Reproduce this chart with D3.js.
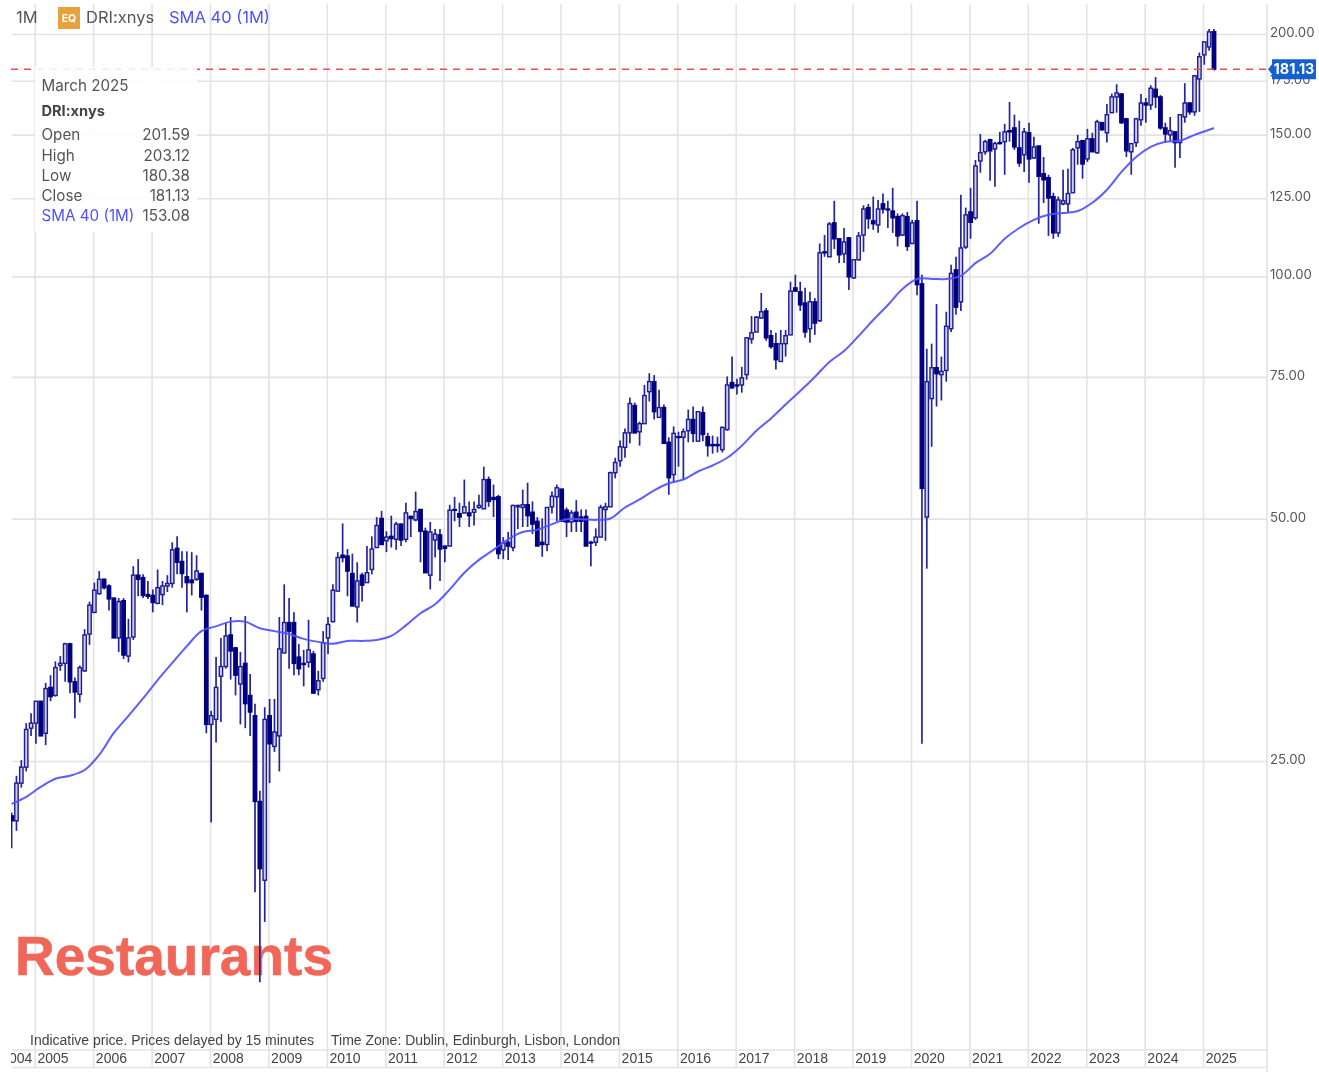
<!DOCTYPE html>
<html><head><meta charset="utf-8">
<script src="https://cdnjs.cloudflare.com/ajax/libs/d3/7.8.5/d3.min.js"></script>
<style>html,body{margin:0;padding:0;background:#fff;overflow:hidden}svg{display:block;filter:blur(0.3px)}</style>
</head><body><svg id="c" width="1319" height="1074"></svg>
<script>
const firstMonth = [2004, 7];
const highs = [21.6,24.0,25.1,27.9,28.7,29.7,29.7,31.3,32.0,33.3,
33.8,35.1,35.1,31.8,32.9,36.5,39.5,41.7,43.1,42.2,
41.5,39.9,39.9,39.9,37.6,43.7,44.6,42.7,41.9,40.9,
43.3,41.9,42.6,46.8,47.6,45.6,45.6,45.5,45.1,42.9,
40.3,28.9,33.7,35.6,37.2,37.8,34.7,34.2,37.9,32.1,
29.5,23.0,29.2,29.9,29.9,37.8,41.5,39.9,38.3,35.0,
34.4,37.5,34.3,32.4,36.3,37.8,41.5,45.5,49.4,45.9,
45.3,44.2,42.9,46.3,47.6,50.3,51.2,48.3,50.5,49.6,
49.4,52.4,50.5,54.1,51.5,48.8,49.6,48.6,48.6,46.3,
52.1,53.3,52.4,56.0,52.6,52.6,53.6,58.1,56.5,55.2,
53.6,47.5,48.2,52.1,52.1,54.4,55.5,52.6,50.3,50.1,
51.7,54.1,55.2,54.5,51.7,51.3,52.8,51.4,51.4,47.0,
48.7,52.1,52.4,57.3,59.6,62.6,64.8,70.8,69.8,66.1,
73.4,75.9,75.5,72.4,69.4,63.2,65.2,64.2,64.8,68.4,
69.0,68.0,69.0,64.0,63.5,63.3,65.2,75.2,79.6,74.7,
77.3,84.0,89.4,89.4,95.5,91.5,85.9,85.2,85.9,85.9,
98.6,100.6,98.6,96.9,95.8,94.1,110.0,112.7,117.0,124.3,
111.5,115.0,112.1,105.0,113.7,122.7,123.2,125.8,124.6,126.9,
124.3,129.0,119.9,119.9,120.4,117.7,124.3,100.6,81.4,82.6,
92.5,79.6,90.5,103.5,105.9,126.5,121.9,129.0,139.7,150.5,
148.0,148.4,147.2,151.4,154.9,164.9,159.0,156.3,153.1,155.4,
149.3,145.4,140.9,133.9,127.2,125.8,135.8,136.2,144.6,150.1,
148.0,152.7,151.0,156.7,155.8,164.0,168.9,173.5,169.2,157.6,
146.4,157.6,168.7,166.8,173.0,177.1,168.2,155.4,158.0,151.4,
159.0,174.0,164.9,178.2,189.9,196.0,203.2,203.12];
const lows = [19.5,20.5,23.2,24.3,26.9,26.3,26.9,26.2,29.7,30.1,
32.4,31.4,30.4,28.3,29.6,32.3,34.9,38.2,40.3,40.9,
38.5,35.6,34.2,33.5,33.2,35.4,40.1,39.9,39.8,38.3,
39.2,39.1,40.6,41.1,42.7,41.1,38.3,40.2,41.9,38.5,
27.1,21.0,26.4,28.0,32.6,31.6,30.2,27.8,27.5,26.9,
17.2,13.3,15.8,23.5,25.7,24.3,34.1,32.6,32.0,32.0,
31.0,32.7,30.4,30.2,31.4,34.0,37.2,40.7,44.2,40.1,
39.0,37.2,39.5,41.7,42.7,46.1,46.5,45.5,46.1,45.8,
46.3,46.8,47.5,49.7,44.2,42.9,40.9,44.8,41.9,44.2,
46.3,49.7,48.9,50.8,48.9,49.1,51.5,51.5,51.8,50.3,
44.6,44.6,44.5,45.6,48.6,48.9,48.9,47.9,46.3,44.9,
45.6,50.8,49.7,49.7,47.5,48.2,48.2,48.2,46.3,43.7,
46.3,47.5,47.0,51.8,56.2,58.1,59.6,62.1,63.9,61.7,
65.7,70.0,66.5,66.9,62.1,53.6,55.5,58.1,56.0,62.3,
62.3,62.5,62.5,59.8,60.3,60.5,60.5,64.4,72.6,71.4,
71.8,74.5,82.6,85.4,88.7,83.3,81.4,76.7,78.5,79.6,
84.7,95.8,90.7,84.0,82.8,84.7,87.9,105.9,105.9,108.3,
104.0,104.0,96.3,99.4,104.7,107.4,114.7,114.4,113.4,119.9,
115.0,113.4,109.1,112.4,107.7,109.8,94.9,26.3,43.4,61.5,
69.0,70.2,74.1,85.4,89.7,90.7,108.3,111.5,117.7,134.7,
141.8,131.6,129.4,146.0,133.9,147.2,143.8,137.0,135.0,130.9,
140.1,116.4,123.5,112.4,111.5,112.1,122.7,120.4,127.2,137.8,
132.4,138.9,143.0,142.2,151.9,146.8,159.9,159.9,154.9,140.9,
133.9,145.0,154.1,155.4,161.2,162.1,152.3,146.8,147.2,136.6,
140.5,155.4,159.0,158.5,160.3,183.4,190.9,180.38];
const opens = [21.4,21.1,23.5,24.6,27.5,27.9,29.7,27.1,30.9,30.2,
32.9,33.1,35.0,31.4,30.3,32.4,36.0,38.3,40.4,42.1,
41.3,39.9,35.6,39.6,33.8,35.7,42.6,42.3,40.3,40.2,
39.3,40.3,41.3,41.6,46.0,44.3,42.4,42.0,42.1,42.8,
40.2,27.8,28.2,31.9,32.8,35.9,34.6,31.2,33.1,30.2,
28.5,22.3,17.8,28.5,26.1,26.9,34.1,37.2,37.2,33.7,
33.1,33.2,34.0,30.7,31.7,35.6,37.3,40.7,45.1,45.0,
42.8,38.9,42.6,41.7,43.3,46.1,50.1,47.0,47.6,47.2,
49.3,47.2,50.4,49.9,51.4,48.3,42.6,47.1,47.8,46.3,
46.3,51.4,50.8,50.9,50.9,51.0,51.7,51.5,56.0,53.2,
53.3,45.8,46.8,46.1,51.8,51.7,52.1,51.0,49.7,46.8,
46.5,51.8,53.3,54.5,51.3,49.6,51.0,50.3,50.4,46.8,
46.8,47.5,51.4,51.8,57.1,59.1,61.4,64.0,69.2,64.2,
65.7,72.0,74.1,66.9,68.8,62.3,56.8,63.3,63.2,64.4,
66.5,62.5,67.8,63.3,61.9,61.9,61.0,64.6,73.9,73.4,
73.4,75.6,83.7,85.4,88.9,90.7,84.5,82.6,78.5,82.6,
84.7,96.9,95.8,92.8,86.2,93.1,88.2,107.4,105.9,116.7,
111.5,106.8,111.8,99.7,105.0,112.7,121.9,117.4,116.0,123.2,
121.4,120.7,118.8,112.7,118.8,110.0,117.4,98.0,50.3,70.6,
77.1,75.6,76.5,86.2,102.0,93.1,108.9,120.4,118.4,139.3,
143.0,148.0,144.2,146.8,147.2,151.9,153.1,144.6,141.8,151.0,
140.5,145.4,134.3,132.8,125.8,113.4,123.2,123.2,127.2,144.6,
147.6,140.1,148.4,142.6,155.4,151.0,159.9,167.3,168.7,157.1,
143.0,146.8,156.7,164.4,163.5,171.0,167.3,153.1,150.1,151.4,
146.8,158.0,164.4,160.3,176.1,188.7,193.0,201.59];
const closes = [21.1,23.5,24.6,27.4,27.9,29.7,26.9,30.8,30.1,32.7,
33.1,35.0,31.4,30.5,32.7,35.9,39.1,40.8,42.1,41.1,
39.8,35.6,39.5,33.9,35.6,42.6,42.1,40.2,40.1,39.4,
41.1,41.3,41.6,45.8,44.2,42.8,41.7,41.7,43.1,40.0,
27.8,28.5,30.9,32.8,35.8,34.3,32.0,32.8,29.5,28.8,
22.3,18.4,28.2,26.3,27.2,34.5,37.2,36.3,33.1,32.6,
33.0,34.4,30.4,31.5,35.1,37.0,40.8,44.8,44.8,43.1,
39.0,41.9,41.4,42.9,45.9,49.1,46.5,47.5,47.3,49.3,
47.1,50.9,50.1,51.1,48.3,42.9,48.2,47.9,45.9,46.0,
51.3,51.3,50.3,51.8,50.5,51.4,52.0,56.0,52.6,52.9,
45.3,46.7,46.3,52.0,52.0,52.1,50.5,49.3,46.3,46.5,
51.7,53.4,54.7,49.7,49.6,50.9,49.7,49.7,46.3,46.7,
47.5,51.7,51.8,57.1,58.8,61.5,64.0,69.6,64.0,65.7,
71.2,74.1,68.0,68.8,62.1,56.3,63.9,63.2,64.2,66.5,
63.9,68.0,63.7,61.7,61.7,61.7,65.0,73.4,72.8,73.2,
74.9,84.0,85.2,89.1,90.5,84.0,81.9,78.9,82.6,84.5,
96.0,96.0,92.3,85.4,93.1,87.6,107.1,107.1,116.3,111.5,
106.5,110.5,100.0,105.0,112.4,121.4,118.1,116.4,121.4,121.4,
121.1,118.4,112.4,119.1,109.1,116.7,97.8,54.6,74.1,77.1,
75.8,76.3,86.8,101.0,91.7,108.6,119.4,116.9,137.3,142.6,
147.2,143.4,146.4,146.4,151.4,151.4,145.0,138.5,151.4,140.1,
145.0,133.3,132.0,125.3,113.4,124.6,124.3,126.9,143.8,147.2,
138.1,148.4,143.0,155.8,152.3,159.0,167.3,169.2,155.4,143.4,
146.4,157.1,164.4,163.5,171.5,167.3,153.1,150.5,151.9,146.8,
159.0,164.4,160.3,177.7,187.7,195.8,201.5,181.13];
// SMA 40 at every third month, plus the last month
const sma40 = [22.15,22.6,23.25,23.8,24.0,24.4,25.47,27.13,28.48,29.94,
31.56,33.14,34.77,36.3,36.8,37.3,37.3,36.6,36.3,36.0,
35.5,35.2,35.0,35.3,35.3,35.4,35.8,36.9,38.2,39.2,
40.9,42.9,44.5,45.8,47.2,48.2,48.5,49.3,50.0,50.0,
49.9,50.1,51.7,52.9,54.3,55.4,56.0,57.3,58.3,59.6,
61.7,64.4,66.7,69.4,72.13,75.1,78.38,80.88,84.44,88.39,
92.26,96.58,99.4,99.4,99.4,100.3,104.0,106.8,111.5,115.0,
117.7,119.4,120.0,120.7,123.6,128.3,135.0,140.9,145.0,147.2,
147.6,150.1,152.3,153.08];
const smaMonths = [...d3.range(0, 247, 3), 247];
const priceTicks = [200,175,150,125,100,75,50,25];
const yearLabels = d3.range(2005, 2026);
const clippedYearLabel = "2004";
const lastPrice = 181.13;
const infoLabels = ["Open","High","Low","Close"];
const infoValues = ["201.59","203.12","180.38","181.13"];

const n = highs.length;
const svg = d3.select("#c");
const x = d3.scaleLinear().domain([0, n-1]).range([11.6, 1214]);
const y = d3.scaleLog().domain([25,200]).range([761.5,34.5]);
const yearIdx = yr => (yr-firstMonth[0])*12 - firstMonth[1];
const gx = yr => x(yearIdx(yr)) - 0.7;
const L = 11, R = 1267, T = 4, B = 1068;
const GRID = "#e3e3e3", SANS = "Inter, 'Noto Sans', sans-serif", ARIAL = "'Liberation Sans', Arial, sans-serif";

svg.append("defs").append("clipPath").attr("id","plot").append("rect").attr("x",L).attr("y",T).attr("width",R-L).attr("height",B-T);
svg.select("defs").append("clipPath").attr("id","xaxis").append("rect").attr("x",L).attr("y",1050).attr("width",R-L).attr("height",20);

// grid
const grid = svg.append("g").attr("stroke",GRID).attr("stroke-width",1.6);
grid.selectAll("line.v").data(yearLabels).join("line").attr("class","v")
  .attr("x1",d=>gx(d)).attr("x2",d=>gx(d)).attr("y1",T).attr("y2",B);
grid.selectAll("line.h").data(priceTicks).join("line").attr("class","h")
  .attr("x1",L+1).attr("x2",R).attr("y1",d=>y(d)).attr("y2",d=>y(d));
grid.append("line").attr("x1",R).attr("x2",R).attr("y1",T).attr("y2",1072);
grid.append("line").attr("x1",L+1).attr("x2",R).attr("y1",1050).attr("y2",1050);
grid.append("line").attr("x1",L+1).attr("x2",R).attr("y1",1067.5).attr("y2",1067.5);

// watermark sits under the candles
svg.append("text").attr("x",15).attr("y",975).attr("font-family",ARIAL).attr("font-weight",700)
  .attr("font-size",55).attr("fill","#f0675a").attr("stroke","#f0675a").attr("stroke-width",0.6)
  .attr("textLength",318).attr("lengthAdjust","spacingAndGlyphs").text("Restaurants");

// candles
const plot = svg.append("g").attr("clip-path","url(#plot)");
const idx = d3.range(n);
plot.append("g").attr("stroke","#24249c").attr("stroke-width",1.7).selectAll("line").data(idx).join("line")
  .attr("x1",i=>x(i)).attr("x2",i=>x(i)).attr("y1",i=>y(highs[i])).attr("y2",i=>y(lows[i]));
plot.append("g").selectAll("rect").data(idx).join("rect")
  .attr("x",i=>x(i)-1.7).attr("width",3.4)
  .attr("y",i=>y(Math.max(opens[i],closes[i])))
  .attr("height",i=>Math.max(0.8,Math.abs(y(opens[i])-y(closes[i]))))
  .attr("fill",i=>closes[i]>=opens[i]?"#cdcde8":"#000080")
  .attr("stroke",i=>closes[i]>=opens[i]?"#1c1c96":"#000080").attr("stroke-width",1.4);

// SMA
plot.append("path").datum(smaMonths).attr("fill","none").attr("stroke","#5050ff").attr("stroke-width",2).attr("stroke-opacity",.92)
  .attr("d",d3.line().x(i=>x(i)).y((i,k)=>y(sma40[k])).curve(d3.curveCatmullRom));

// last price
svg.append("line").attr("x1",L).attr("x2",R).attr("y1",y(lastPrice)).attr("y2",y(lastPrice))
  .attr("stroke","#ee4f4a").attr("stroke-width",1.5).attr("stroke-dasharray","7,6");

// info panel
svg.append("rect").attr("x",35).attr("y",67).attr("width",162).attr("height",165).attr("fill","#fff").attr("fill-opacity",.88);
const tc = "#555";
const t = (s,xx,yy,o={}) => svg.append("text").attr("x",xx).attr("y",yy).attr("font-family",o.f||SANS)
  .attr("font-size",o.s||15.2).attr("fill",o.c||tc).attr("font-weight",o.w||400).attr("text-anchor",o.a||"start").text(s);
t("March 2025",41.5,90.5);
t("DRI:xnys",41.5,116,{w:700,c:"#444",s:14.6});
infoLabels.forEach((l,i)=>{ const yy=[140,160.5,181,200.5][i]; t(l,41.5,yy); t(infoValues[i],190,yy,{a:"end"}); });
t("SMA 40 (1M)",41.5,221,{c:"#5050ff"});
t("153.08",190,221,{a:"end"});

// header
t("1M",16,23,{s:16.5});
svg.append("rect").attr("x",58).attr("y",7).attr("width",22).attr("height",22).attr("fill","#e8a23c");
t("EQ",69,22,{s:10.5,w:700,c:"#fff",a:"middle"});
t("DRI:xnys",86,23,{s:16.5});
t("SMA 40 (1M)",169,23,{s:16.5,c:"#5050ff"});

// right axis
priceTicks.forEach(d=>t(d.toFixed(2),1270,y(d)+2.5,{s:13.2}));
const tagY = y(lastPrice);
svg.append("path").attr("d",d3.line()([[1268,tagY],[1272,tagY-5],[1272,tagY-10],[1316,tagY-10],[1316,tagY+10],[1272,tagY+10],[1272,tagY+5]])+"Z").attr("fill","#1460d0");
t("181.13",1294,tagY+5,{s:14.4,w:700,c:"#fff",a:"middle"});

// footer
t("Indicative price. Prices delayed by 15 minutes",30,1045,{f:ARIAL,s:14,c:"#444"});
t("Time Zone: Dublin, Edinburgh, Lisbon, London",331,1045,{f:ARIAL,s:14,c:"#444"});
const xa = svg.append("g").attr("clip-path","url(#xaxis)").attr("font-family",ARIAL).attr("font-size",14).attr("fill","#444");
xa.selectAll("text").data(yearLabels).join("text").attr("x",d=>gx(d)+2.2).attr("y",1063).text(d=>d);
xa.append("text").attr("x",gx(2005)-34).attr("y",1063).text(clippedYearLabel);
</script></body></html>
